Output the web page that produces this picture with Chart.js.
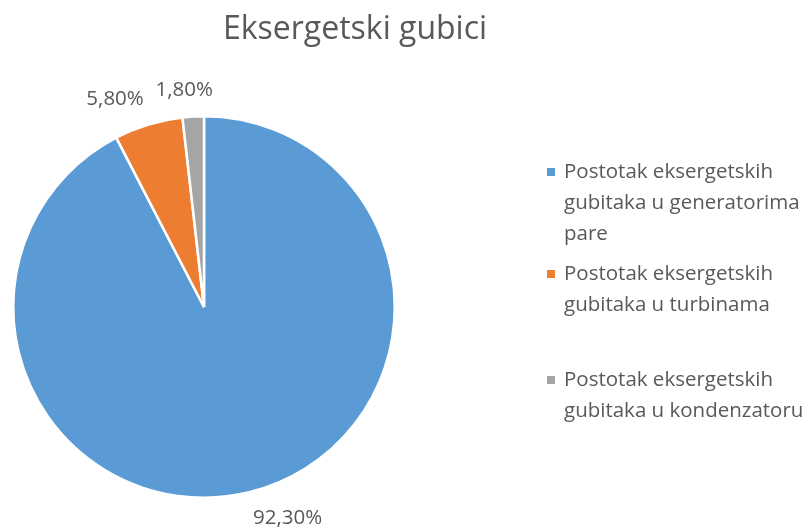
<!DOCTYPE html>
<html>
<head>
<meta charset="utf-8">
<script src="https://cdn.jsdelivr.net/npm/chart.js@4.4.1/dist/chart.umd.min.js"></script>
<style>
  html, body { margin: 0; padding: 0; background: #fff; }
  #wrap { position: relative; width: 809px; height: 531px; }
</style>
</head>
<body>
<div id="wrap"><canvas id="c" width="809" height="531"></canvas></div>
<script>
const chartTitle = 'Eksergetski gubici';
const categories = [
  ['Postotak eksergetskih', 'gubitaka u generatorima', 'pare'],
  ['Postotak eksergetskih', 'gubitaka u turbinama'],
  ['Postotak eksergetskih', 'gubitaka u kondenzatoru']
];
const values = [92.3, 5.8, 1.8];
const valueLabels = ['92,30%', '5,80%', '1,80%'];
const colors = ['#5b9bd5', '#ed7d31', '#a5a5a5'];

const FONT = '"Open Sans", "Liberation Sans", sans-serif';
const TEXT = '#595959';

const overlay = {
  id: 'overlay',
  afterDraw(chart) {
    const ctx = chart.ctx;
    ctx.save();
    // title
    ctx.fillStyle = TEXT;
    ctx.font = '32px ' + FONT;
    ctx.textAlign = 'center';
    ctx.textBaseline = 'middle';
    ctx.fillText(chartTitle, 355, 30);

    // data labels (outside end)
    ctx.font = '20.5px ' + FONT;
    const meta = chart.getDatasetMeta(0);
    meta.data.forEach((arc, i) => {
      const p = arc.getProps(['x', 'y', 'startAngle', 'endAngle', 'outerRadius'], true);
      const mid = (p.startAngle + p.endAngle) / 2;
      const sx = Math.cos(mid), sy = Math.sin(mid);
      const w = ctx.measureText(valueLabels[i]).width;
      const h = 20;
      const r = p.outerRadius + 16;
      const ax = p.x + sx * r, ay = p.y + sy * r;
      const fx = Math.min(1, Math.abs(sx) / 0.2);
      const fy = Math.min(1, Math.abs(sy) / 0.2);
      const cx = ax + Math.sign(sx) * w / 2 * fx;
      const cy = ay + Math.sign(sy) * h / 2 * fy;
      ctx.fillText(valueLabels[i], cx, cy);
    });

    // legend
    ctx.textAlign = 'left';
    ctx.font = '20.5px ' + FONT;
    const starts = [172, 274, 380];
    const lh = 31;
    categories.forEach((lines, i) => {
      const y0 = starts[i];
      ctx.fillStyle = colors[i];
      ctx.fillRect(547, y0 - 4, 8, 8);
      ctx.fillStyle = TEXT;
      lines.forEach((t, j) => ctx.fillText(t, 564, y0 + j * lh));
    });
    ctx.restore();
  }
};

new Chart(document.getElementById('c'), {
  type: 'pie',
  data: {
    labels: categories.map(l => l.join(' ')),
    datasets: [{
      data: values,
      backgroundColor: colors,
      borderColor: '#ffffff',
      borderWidth: 2.5
    }]
  },
  options: {
    responsive: false,
    animation: false,
    layout: { padding: { left: 12, right: 413, top: 115, bottom: 32 } },
    plugins: {
      legend: { display: false },
      title: { display: false },
      tooltip: { enabled: false }
    }
  },
  plugins: [overlay]
});
</script>
</body>
</html>
